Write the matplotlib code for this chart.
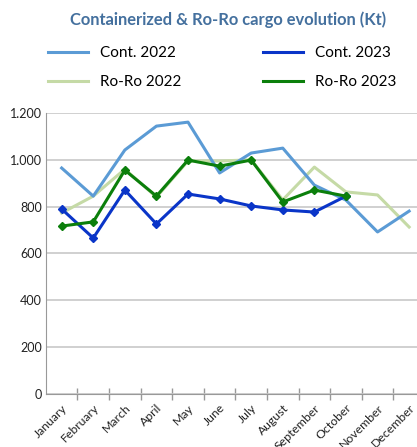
import matplotlib.pyplot as plt
from matplotlib.ticker import FuncFormatter, FixedLocator

months = ["January", "February", "March", "April", "May", "June", "July",
          "August", "September", "October", "November", "December"]

cont_2022 = [965, 845, 1042, 1144, 1161, 944, 1029, 1050, 892, 828, 692, 781]
cont_2023 = [790, 666, 871, 726, 854, 833, 803, 786, 777, 845]
roro_2022 = [773, 845, 960, 841, 995, 995, 1000, 829, 969, 863, 850, 713]
roro_2023 = [717, 735, 956, 845, 999, 973, 999, 820, 871, 845]

plt.rcParams['font.family'] = ['Lato', 'DejaVu Sans']

fig = plt.figure(figsize=(4.17, 4.47), dpi=100)
ax = fig.add_axes([0.110, 0.1186, 0.909, 0.6286])

x22 = range(len(cont_2022))
x23 = range(len(cont_2023))

# linhas 2022 sem marcadores, 2023 com losangos
ax.plot(x22, cont_2022, color="#5B9BD5", lw=2.2, label="Cont. 2022", zorder=3)
ax.plot(x23, cont_2023, color="#0A35C8", lw=2.2, marker="D", ms=4.5,
        label="Cont. 2023", zorder=4)
ax.plot(x22, roro_2022, color="#C5DAA6", lw=2.2, label="Ro-Ro 2022", zorder=2)
ax.plot(x23, roro_2023, color="#0B7F0B", lw=2.2, marker="D", ms=4.5,
        label="Ro-Ro 2023", zorder=5)

ax.set_xlim(-0.5, 11.5)
ax.set_ylim(0, 1200)
ax.set_yticks(range(0, 1201, 200))
ax.yaxis.set_major_formatter(FuncFormatter(lambda v, p: f"{int(v):,}".replace(",", ".")))
ax.grid(axis="y", color="#C8C8C8", lw=1.2)
ax.set_axisbelow(True)
ax.tick_params(axis="y", length=0, pad=3, labelsize=9, colors="#222222")

ax.set_xticks(range(12))
ax.set_xticklabels(months, rotation=45, ha="right", rotation_mode="anchor",
                   fontsize=8.8, color="#222222")
ax.tick_params(axis="x", length=0, pad=6)
ax.xaxis.set_minor_locator(FixedLocator([i + 0.5 for i in range(11)]))
ax.tick_params(axis="x", which="minor", length=9, direction="inout", color="#999999", width=1)

for s in ["top", "right"]:
    ax.spines[s].set_visible(False)
ax.spines["left"].set_color("#999999")
ax.spines["bottom"].set_color("#999999")

fig.text(0.546, 0.955, "Containerized & Ro-Ro cargo evolution (Kt)", ha="center",
         va="center", fontsize=11.9, fontweight="bold", color="#44709E")

handles, labels = ax.get_legend_handles_labels()
leg = fig.legend([handles[0], handles[2], handles[1], handles[3]],
                 [labels[0], labels[2], labels[1], labels[3]],
                 ncol=2, loc="center", bbox_to_anchor=(0.533, 0.849),
                 frameon=False, fontsize=11, handlelength=2.6,
                 columnspacing=5.35, labelspacing=1.0)
for h in leg.legend_handles:
    h.set_marker("")

fig.savefig("out.png", dpi=100)
